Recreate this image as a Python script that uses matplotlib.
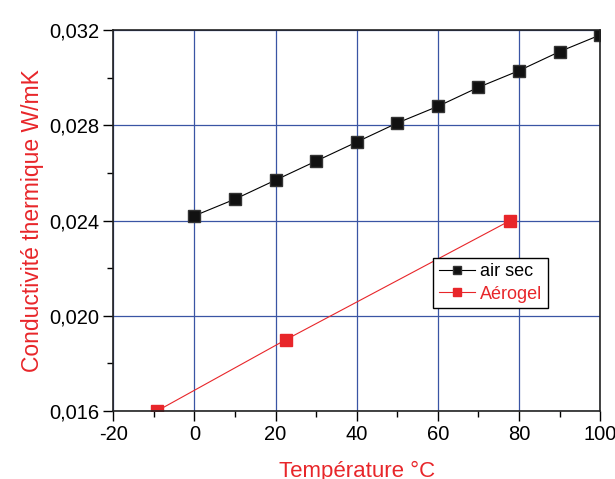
import matplotlib
matplotlib.use("Agg")
import matplotlib.pyplot as plt
from matplotlib.ticker import MultipleLocator

plt.rcParams['font.family'] = ['Liberation Sans', 'DejaVu Sans']
plt.rcParams['axes.unicode_minus'] = False

# air sec
temp_air = [0, 10, 20, 30, 40, 50, 60, 70, 80, 90, 100]
k_air = [0.0242, 0.0249, 0.0257, 0.0265, 0.0273, 0.0281, 0.0288, 0.0296, 0.0303, 0.0311, 0.0318]

# aerogel
temp_aero = [-9.2, 22.6, 77.8]
k_aero = [0.0160, 0.0190, 0.0240]

xticks = [-20, 0, 20, 40, 60, 80, 100]
yticks = [0.016, 0.020, 0.024, 0.028, 0.032]
ylabels = ["0,016", "0,020", "0,024", "0,028", "0,032"]

red = "#e8262a"
grid_blue = "#3a55a4"

fig = plt.figure(figsize=(6.15, 4.79), dpi=100)
ax = fig.add_axes([0.184, 0.142, 0.792, 0.795])

ax.plot(temp_air, k_air, color="black", lw=0.8, marker="s", markersize=8,
        markerfacecolor="#111111", markeredgecolor="#333333", label="air sec")
ax.plot(temp_aero, k_aero, color=red, lw=0.8, marker="s", markersize=8,
        markerfacecolor=red, markeredgecolor=red, label="Aérogel")

ax.set_xlim(-20, 100)
ax.set_ylim(0.016, 0.032)
ax.set_xticks(xticks)
ax.set_yticks(yticks)
ax.set_yticklabels(ylabels)
ax.xaxis.set_minor_locator(MultipleLocator(10))
ax.yaxis.set_minor_locator(MultipleLocator(0.002))

ax.grid(True, which="major", color=grid_blue, lw=0.9)
ax.set_axisbelow(True)

ax.tick_params(which="major", direction="out", length=7, width=1, labelsize=14.5,
               colors="black", pad=3)
ax.tick_params(which="minor", direction="out", length=4, width=1)
for s in ax.spines.values():
    s.set_linewidth(1.2)
    s.set_color("#222222")

ax.set_xlabel("Température °C", color=red, fontsize=16, labelpad=12)
ax.set_ylabel("Conductivité thermique W/mK", color=red, fontsize=16.5, labelpad=4)

leg = ax.legend(loc="upper left", bbox_to_anchor=(0.657, 0.402), fontsize=13,
                frameon=True, fancybox=False, edgecolor="black", framealpha=1,
                handlelength=2.0, handletextpad=0.3, borderpad=0.3,
                labelspacing=0.3, borderaxespad=0, markerscale=0.7)
leg.get_frame().set_linewidth(1)
leg.get_texts()[1].set_color(red)

fig.savefig("out.png", dpi=100)
